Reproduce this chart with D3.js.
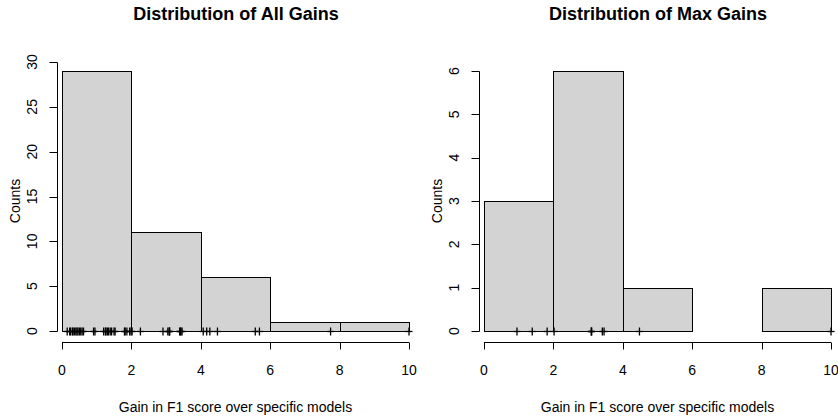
<!DOCTYPE html>
<html>
<head>
<meta charset="utf-8">
<script src="https://cdn.jsdelivr.net/npm/d3@7"></script>
<style>
  body { margin: 0; background: #fff; }
  svg { display: block; font-family: "Liberation Sans", Arial, Helvetica, sans-serif; }
</style>
</head>
<body>
<svg id="chart" width="838" height="419"></svg>
<script>
// Gains
const allGains = [
  0.15, 0.22, 0.25, 0.30, 0.32, 0.36, 0.40, 0.43, 0.46, 0.50,
  0.54, 0.58, 0.62, 0.91, 0.95, 1.20, 1.25, 1.27, 1.31, 1.34,
  1.39, 1.43, 1.50, 1.53, 1.80, 1.82, 1.87, 1.95, 1.99,
  2.02, 2.26, 2.91, 3.05, 3.09, 3.10, 3.10, 3.39, 3.41, 3.43, 3.46,
  4.07, 4.17, 4.26, 4.48, 5.57, 5.69,
  7.74,
  10.0
];
const maxGains = [0.95, 1.39, 1.82, 2.02, 3.09, 3.10, 3.10, 3.41, 3.46, 4.48, 10.0];

const binEdges = [0, 2, 4, 6, 8, 10];
const xTicks = [0, 2, 4, 6, 8, 10];
const allCountTicks = [0, 5, 10, 15, 20, 25, 30];
const maxCountTicks = [0, 1, 2, 3, 4, 5, 6];

const titles = ["Distribution of All Gains", "Distribution of Max Gains"];
const xLabel = "Gain in F1 score over specific models";
const yLabel = "Counts";

const svg = d3.select("#chart");

function drawPanel(values, yTicks, title, left) {
  const g = svg.append("g").attr("transform", `translate(${left},0)`);

  const x = d3.scaleLinear().domain([0, 10]).range([62, 409]);
  const bins = d3.bin().domain([0, 10]).thresholds(binEdges.slice(1, -1))(values);
  const yMax = d3.max(bins, d => d.length);
  // 0 sits at 331, the tallest bar tops out at 71
  const y = d3.scaleLinear().domain([0, yMax]).range([331, 71]);

  // bars
  g.selectAll("rect.bar")
    .data(bins.filter(b => b.length > 0))
    .enter()
    .append("rect")
    .attr("class", "bar")
    .attr("x", d => Math.round(x(d.x0)) + 0.5)
    .attr("y", d => Math.round(y(d.length)) + 0.5)
    .attr("width", d => Math.round(x(d.x1)) - Math.round(x(d.x0)))
    .attr("height", d => Math.round(y(0)) - Math.round(y(d.length)))
    .attr("fill", "#d3d3d3")
    .attr("stroke", "#000")
    .attr("stroke-width", 1);

  // "+" marks at zero for every value
  const plus = g.selectAll("g.rug")
    .data(values)
    .enter()
    .append("g")
    .attr("class", "rug")
    .attr("transform", d => `translate(${x(d)},${Math.round(y(0)) + 0.5})`);
  plus.append("line").attr("x1", -3.5).attr("x2", 3.5).attr("y1", 0).attr("y2", 0)
    .attr("stroke", "#000").attr("stroke-width", 1.3);
  plus.append("line").attr("x1", 0).attr("x2", 0).attr("y1", -4).attr("y2", 4)
    .attr("stroke", "#000").attr("stroke-width", 1.3);

  // x axis
  const xAxis = g.append("g").attr("transform", "translate(0,342.5)");
  xAxis.append("line")
    .attr("x1", x(xTicks[0])).attr("x2", x(xTicks[xTicks.length - 1]))
    .attr("stroke", "#000");
  xAxis.selectAll("line.tick")
    .data(xTicks).enter().append("line")
    .attr("class", "tick")
    .attr("x1", d => Math.round(x(d)) + 0.5).attr("x2", d => Math.round(x(d)) + 0.5)
    .attr("y1", 0).attr("y2", 7)
    .attr("stroke", "#000");
  xAxis.selectAll("text")
    .data(xTicks).enter().append("text")
    .attr("x", d => x(d))
    .attr("y", 32.5)
    .attr("text-anchor", "middle")
    .attr("font-size", 14)
    .text(d => d);

  // y axis
  const yAxis = g.append("g").attr("transform", "translate(57.5,0)");
  yAxis.append("line")
    .attr("y1", Math.round(y(yTicks[0])) + 0.5)
    .attr("y2", Math.round(y(yTicks[yTicks.length - 1])) + 0.5)
    .attr("stroke", "#000");
  yAxis.selectAll("line.tick")
    .data(yTicks).enter().append("line")
    .attr("class", "tick")
    .attr("y1", d => Math.round(y(d)) + 0.5).attr("y2", d => Math.round(y(d)) + 0.5)
    .attr("x1", 0).attr("x2", -8)
    .attr("stroke", "#000");
  yAxis.selectAll("text")
    .data(yTicks).enter().append("text")
    .attr("transform", d => `translate(-20.5,${y(d)}) rotate(-90)`)
    .attr("text-anchor", "middle")
    .attr("font-size", 14)
    .text(d => d);

  // labels
  g.append("text")
    .attr("x", 236).attr("y", 20)
    .attr("text-anchor", "middle")
    .attr("font-size", 18)
    .attr("font-weight", "bold")
    .text(title);
  g.append("text")
    .attr("x", 235.5).attr("y", 412)
    .attr("text-anchor", "middle")
    .attr("font-size", 14)
    .text(xLabel);
  g.append("text")
    .attr("transform", "translate(20,201) rotate(-90)")
    .attr("text-anchor", "middle")
    .attr("font-size", 14)
    .text(yLabel);
}

drawPanel(allGains, allCountTicks, titles[0], 0);
drawPanel(maxGains, maxCountTicks, titles[1], 422);
</script>
</body>
</html>
